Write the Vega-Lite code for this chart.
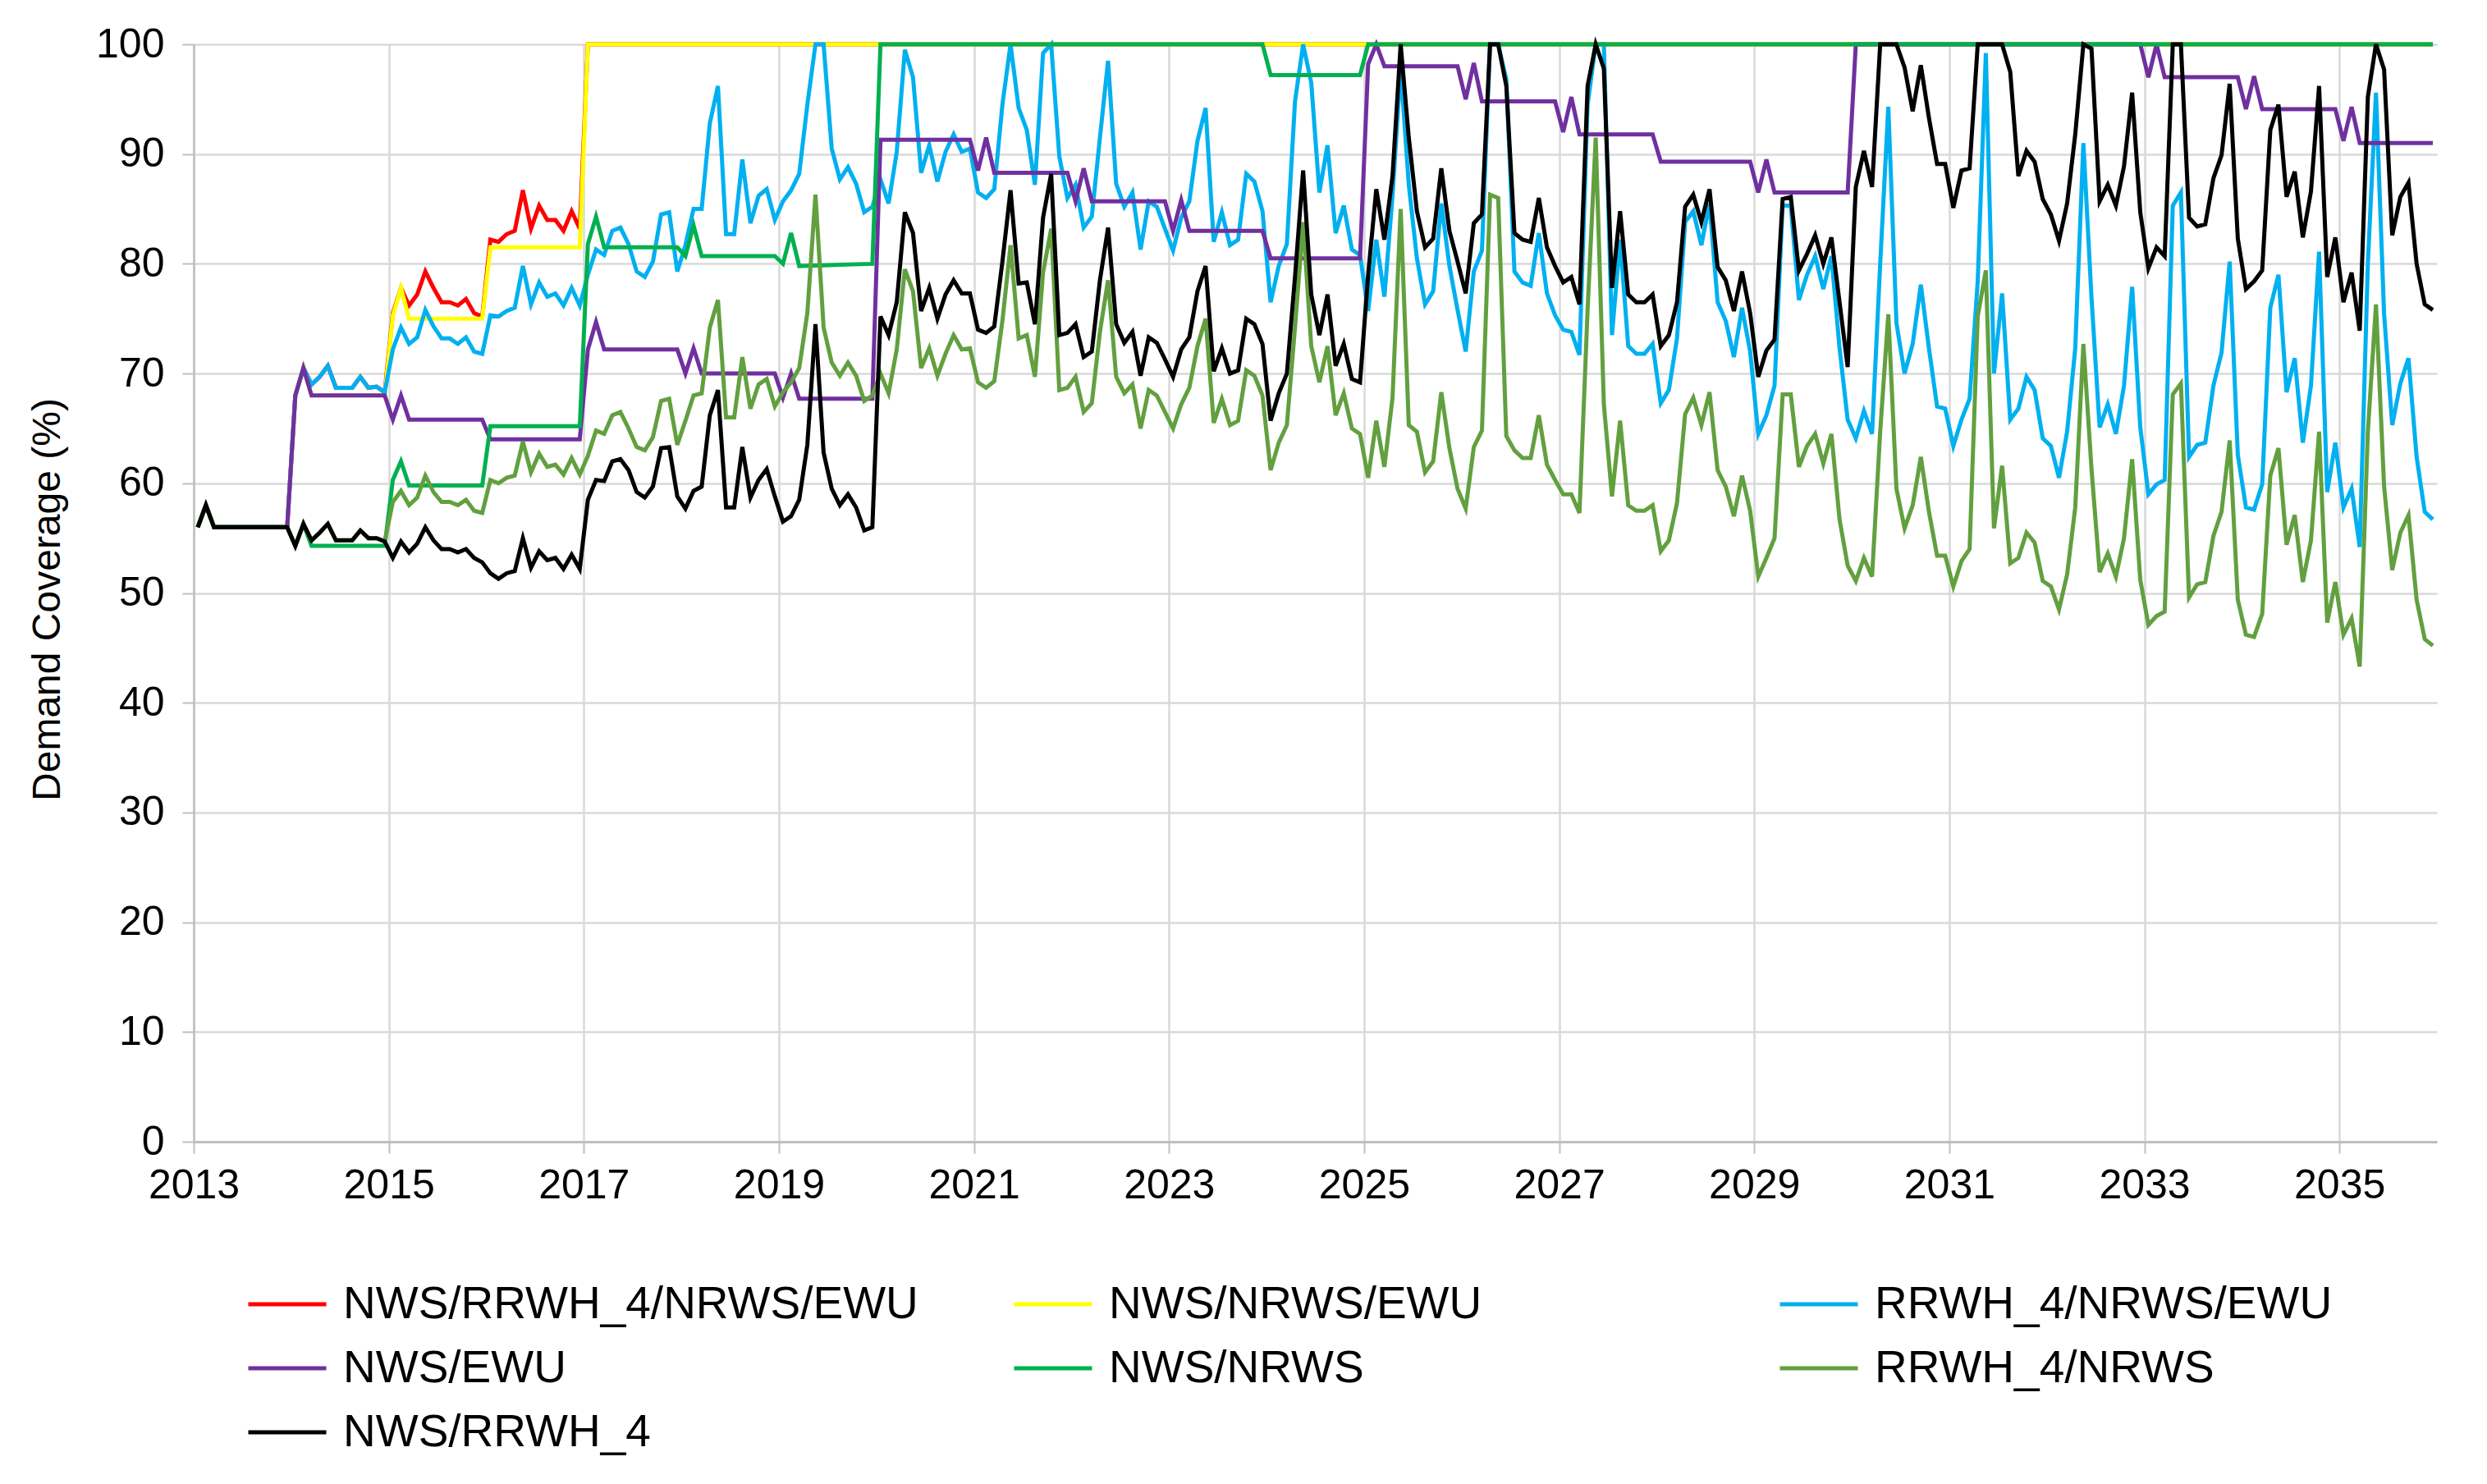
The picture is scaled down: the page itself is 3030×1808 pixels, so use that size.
{
"$schema": "https://vega.github.io/schema/vega-lite/v6.json",
"width": 2733, "height": 1337,
"autosize": {"type": "none"},
"padding": {"left": 236, "top": 54, "right": 61, "bottom": 417},
"background": "white",
"datasets": {
"red": [{"m":0,"v":56},{"m":1,"v":58},{"m":2,"v":56},{"m":11,"v":56},{"m":12,"v":68},{"m":13,"v":70.5},{"m":14,"v":69},{"m":15,"v":69.7},{"m":16,"v":70.7},{"m":17,"v":68.7},{"m":18,"v":68.7},{"m":19,"v":68.7},{"m":20,"v":69.7},{"m":21,"v":68.7},{"m":22,"v":68.8},{"m":23,"v":68.3},{"m":24,"v":75.5},{"m":25,"v":77.8},{"m":26,"v":76.2},{"m":27,"v":77.2},{"m":28,"v":79.3},{"m":29,"v":77.8},{"m":30,"v":76.5},{"m":31,"v":76.5},{"m":32,"v":76.2},{"m":33,"v":76.8},{"m":34,"v":75.5},{"m":35,"v":75.2},{"m":36,"v":82.2},{"m":37,"v":82},{"m":38,"v":82.7},{"m":39,"v":83},{"m":40,"v":86.7},{"m":41,"v":83.2},{"m":42,"v":85.3},{"m":43,"v":84},{"m":44,"v":84},{"m":45,"v":83},{"m":46,"v":84.8},{"m":47,"v":83.2},{"m":48,"v":100},{"m":275,"v":100}],
"yellow": [{"m":0,"v":56},{"m":1,"v":58},{"m":2,"v":56},{"m":11,"v":56},{"m":12,"v":68},{"m":13,"v":70.5},{"m":14,"v":68},{"m":23,"v":68},{"m":24,"v":75.3},{"m":25,"v":77.8},{"m":26,"v":75},{"m":35,"v":75},{"m":36,"v":81.5},{"m":47,"v":81.5},{"m":48,"v":100},{"m":275,"v":100}],
"blue": [{"m":0,"v":56},{"m":1,"v":58},{"m":2,"v":56},{"m":3,"v":56},{"m":4,"v":56},{"m":5,"v":56},{"m":6,"v":56},{"m":7,"v":56},{"m":8,"v":56},{"m":9,"v":56},{"m":10,"v":56},{"m":11,"v":56},
{"m":12,"v":68},{"m":13,"v":70.5},{"m":14,"v":69},{"m":15,"v":69.7},{"m":16,"v":70.7},{"m":17,"v":68.7},{"m":18,"v":68.7},{"m":19,"v":68.7},{"m":20,"v":69.7},{"m":21,"v":68.7},{"m":22,"v":68.8},{"m":23,"v":68.3},
{"m":24,"v":72.2},{"m":25,"v":74.2},{"m":26,"v":72.7},{"m":27,"v":73.3},{"m":28,"v":75.8},{"m":29,"v":74.3},{"m":30,"v":73.2},{"m":31,"v":73.2},{"m":32,"v":72.7},{"m":33,"v":73.3},{"m":34,"v":72},{"m":35,"v":71.8},
{"m":36,"v":75.3},{"m":37,"v":75.2},{"m":38,"v":75.7},{"m":39,"v":76},{"m":40,"v":79.8},{"m":41,"v":76.3},{"m":42,"v":78.3},{"m":43,"v":77},{"m":44,"v":77.3},{"m":45,"v":76.2},{"m":46,"v":77.8},{"m":47,"v":76.2},
{"m":48,"v":79},{"m":49,"v":81.3},{"m":50,"v":80.8},{"m":51,"v":83},{"m":52,"v":83.3},{"m":53,"v":81.8},{"m":54,"v":79.3},{"m":55,"v":78.8},{"m":56,"v":80.2},{"m":57,"v":84.5},{"m":58,"v":84.7},{"m":59,"v":79.3},
{"m":60,"v":81.7},{"m":61,"v":85},{"m":62,"v":85},{"m":63,"v":92.8},{"m":64,"v":96.2},{"m":65,"v":82.7},{"m":66,"v":82.7},{"m":67,"v":89.5},{"m":68,"v":83.7},{"m":69,"v":86.2},{"m":70,"v":86.8},{"m":71,"v":84},
{"m":72,"v":85.7},{"m":73,"v":86.7},{"m":74,"v":88.2},{"m":75,"v":94.5},{"m":76,"v":100},{"m":77,"v":100},{"m":78,"v":90.5},{"m":79,"v":87.7},{"m":80,"v":88.8},{"m":81,"v":87.3},{"m":82,"v":84.7},{"m":83,"v":85.2},
{"m":84,"v":87.7},{"m":85,"v":85.5},{"m":86,"v":90.2},{"m":87,"v":99.5},{"m":88,"v":97},{"m":89,"v":88.3},{"m":90,"v":90.8},{"m":91,"v":87.5},{"m":92,"v":90.2},{"m":93,"v":91.8},{"m":94,"v":90.2},{"m":95,"v":90.5},
{"m":96,"v":86.5},{"m":97,"v":86},{"m":98,"v":86.8},{"m":99,"v":94.5},{"m":100,"v":100},{"m":101,"v":94.2},{"m":102,"v":92.2},{"m":103,"v":87.2},{"m":104,"v":99.2},{"m":105,"v":100},{"m":106,"v":89.8},{"m":107,"v":86},
{"m":108,"v":87.2},{"m":109,"v":83.3},{"m":110,"v":84.3},{"m":111,"v":91.5},{"m":112,"v":98.5},{"m":113,"v":87.3},{"m":114,"v":85.2},{"m":115,"v":86.5},{"m":116,"v":81.3},{"m":117,"v":85.7},{"m":118,"v":85.2},{"m":119,"v":83.2},
{"m":120,"v":81.2},{"m":121,"v":84.2},{"m":122,"v":85.7},{"m":123,"v":91.2},{"m":124,"v":94.2},{"m":125,"v":82},{"m":126,"v":84.7},{"m":127,"v":81.7},{"m":128,"v":82.2},{"m":129,"v":88.2},{"m":130,"v":87.5},{"m":131,"v":84.8},
{"m":132,"v":76.5},{"m":133,"v":79.8},{"m":134,"v":81.8},{"m":135,"v":94.8},{"m":136,"v":100},{"m":137,"v":96.5},{"m":138,"v":86.5},{"m":139,"v":90.8},{"m":140,"v":82.8},{"m":141,"v":85.3},{"m":142,"v":81.3},{"m":143,"v":80.8},
{"m":144,"v":75.7},{"m":145,"v":82.2},{"m":146,"v":77},{"m":147,"v":86.2},{"m":148,"v":97.8},{"m":149,"v":87.2},{"m":150,"v":80.5},{"m":151,"v":76.3},{"m":152,"v":77.5},{"m":153,"v":85.5},{"m":154,"v":79.8},{"m":155,"v":75.8},
{"m":156,"v":72},{"m":157,"v":79.3},{"m":158,"v":81.2},{"m":159,"v":100},{"m":160,"v":100},{"m":161,"v":96.8},{"m":162,"v":79.3},{"m":163,"v":78.3},{"m":164,"v":78},{"m":165,"v":82.8},{"m":166,"v":77.3},{"m":167,"v":75.3},
{"m":168,"v":74},{"m":169,"v":73.8},{"m":170,"v":71.7},{"m":171,"v":94.5},{"m":172,"v":100},{"m":173,"v":100},{"m":174,"v":73.5},{"m":175,"v":82.2},{"m":176,"v":72.5},{"m":177,"v":71.8},{"m":178,"v":71.8},{"m":179,"v":72.7},
{"m":180,"v":67.3},{"m":181,"v":68.5},{"m":182,"v":73.2},{"m":183,"v":83.8},{"m":184,"v":84.8},{"m":185,"v":81.7},{"m":186,"v":85.5},{"m":187,"v":76.5},{"m":188,"v":74.8},{"m":189,"v":71.5},{"m":190,"v":76},{"m":191,"v":72},
{"m":192,"v":64.5},{"m":193,"v":66.2},{"m":194,"v":68.9},{"m":195,"v":85.3},{"m":196,"v":85.3},{"m":197,"v":76.7},{"m":198,"v":79},{"m":199,"v":80.7},{"m":200,"v":77.7},{"m":201,"v":80.7},{"m":202,"v":72.3},{"m":203,"v":65.8},
{"m":204,"v":64.1},{"m":205,"v":66.6},{"m":206,"v":64.5},{"m":207,"v":80},{"m":208,"v":94.3},{"m":209,"v":74.6},{"m":210,"v":70},{"m":211,"v":72.7},{"m":212,"v":78.1},{"m":213,"v":72.3},{"m":214,"v":67},{"m":215,"v":66.8},
{"m":216,"v":63.4},{"m":217,"v":65.8},{"m":218,"v":67.7},{"m":219,"v":78.4},{"m":220,"v":99.2},{"m":221,"v":70},{"m":222,"v":77.3},{"m":223,"v":65.8},{"m":224,"v":66.8},{"m":225,"v":69.7},{"m":226,"v":68.5},{"m":227,"v":64.1},
{"m":228,"v":63.4},{"m":229,"v":60.5},{"m":230,"v":64.7},{"m":231,"v":72.3},{"m":232,"v":91},{"m":233,"v":76.9},{"m":234,"v":65.1},{"m":235,"v":67.2},{"m":236,"v":64.5},{"m":237,"v":68.9},{"m":238,"v":77.9},{"m":239,"v":65.1},
{"m":240,"v":59},{"m":241,"v":59.9},{"m":242,"v":60.3},{"m":243,"v":85.3},{"m":244,"v":86.5},{"m":245,"v":62.4},{"m":246,"v":63.5},{"m":247,"v":63.7},{"m":248,"v":68.9},{"m":249,"v":71.9},{"m":250,"v":80.2},{"m":251,"v":62.6},
{"m":252,"v":57.8},{"m":253,"v":57.6},{"m":254,"v":59.9},{"m":255,"v":76},{"m":256,"v":79},{"m":257,"v":68.3},{"m":258,"v":71.4},{"m":259,"v":63.7},{"m":260,"v":68.9},{"m":261,"v":81.1},{"m":262,"v":59.2},{"m":263,"v":63.7},
{"m":264,"v":57.8},{"m":265,"v":59.5},{"m":266,"v":54.2},{"m":267,"v":80},{"m":268,"v":95.6},{"m":269,"v":75.4},{"m":270,"v":65.3},{"m":271,"v":69.1},{"m":272,"v":71.4},{"m":273,"v":62.4},{"m":274,"v":57.4},{"m":275,"v":56.7}],
"purple": [{"m":0,"v":56},{"m":1,"v":58},{"m":2,"v":56},{"m":11,"v":56},{"m":12,"v":68},{"m":13,"v":70.5},{"m":14,"v":68},{"m":23,"v":68},{"m":24,"v":65.8},{"m":25,"v":68},{"m":26,"v":65.8},{"m":35,"v":65.8},{"m":36,"v":64},{"m":47,"v":64},{"m":48,"v":72.2},{"m":49,"v":74.7},{"m":50,"v":72.2},{"m":59,"v":72.2},{"m":60,"v":70},{"m":61,"v":72.3},{"m":62,"v":70},{"m":71,"v":70},{"m":72,"v":67.8},{"m":73,"v":70},{"m":74,"v":67.7},{"m":83,"v":67.7},{"m":84,"v":91.3},{"m":95,"v":91.3},{"m":96,"v":88.5},{"m":97,"v":91.5},{"m":98,"v":88.3},{"m":107,"v":88.3},{"m":108,"v":85.7},{"m":109,"v":88.7},{"m":110,"v":85.7},{"m":119,"v":85.7},{"m":120,"v":83},{"m":121,"v":85.8},{"m":122,"v":83},{"m":131,"v":83},{"m":132,"v":80.5},{"m":143,"v":80.5},{"m":144,"v":98.2},{"m":145,"v":100},{"m":146,"v":98},{"m":155,"v":98},{"m":156,"v":95},{"m":157,"v":98.3},{"m":158,"v":94.8},{"m":167,"v":94.8},{"m":168,"v":92},{"m":169,"v":95.2},{"m":170,"v":91.8},{"m":179,"v":91.8},{"m":180,"v":89.3},{"m":191,"v":89.3},{"m":192,"v":86.5},{"m":193,"v":89.5},{"m":194,"v":86.5},{"m":203,"v":86.5},{"m":204,"v":100},{"m":239,"v":100},{"m":240,"v":97},{"m":241,"v":100},{"m":242,"v":97},{"m":251,"v":97},{"m":252,"v":94.1},{"m":253,"v":97.1},{"m":254,"v":94.1},{"m":263,"v":94.1},{"m":264,"v":91.2},{"m":265,"v":94.3},{"m":266,"v":91},{"m":275,"v":91}],
"green": [{"m":0,"v":56},{"m":1,"v":58},{"m":2,"v":56},{"m":11,"v":56},{"m":12,"v":54.3},{"m":13,"v":56.3},{"m":14,"v":54.3},{"m":23,"v":54.3},{"m":24,"v":60.3},{"m":25,"v":62},{"m":26,"v":59.8},{"m":35,"v":59.8},{"m":36,"v":65.2},{"m":47,"v":65.2},{"m":48,"v":81.8},{"m":49,"v":84.3},{"m":50,"v":81.5},{"m":59,"v":81.5},{"m":60,"v":80.7},{"m":61,"v":83.5},{"m":62,"v":80.7},{"m":71,"v":80.7},{"m":72,"v":80},{"m":73,"v":82.8},{"m":74,"v":79.8},{"m":83,"v":80},{"m":84,"v":100},{"m":131,"v":100},{"m":132,"v":97.2},{"m":143,"v":97.2},{"m":144,"v":100},{"m":275,"v":100}],
"lgreen": [{"m":0,"v":56},{"m":1,"v":58},{"m":2,"v":56},{"m":3,"v":56},{"m":4,"v":56},{"m":5,"v":56},{"m":6,"v":56},{"m":7,"v":56},{"m":8,"v":56},{"m":9,"v":56},{"m":10,"v":56},{"m":11,"v":56},
{"m":12,"v":54.3},{"m":13,"v":56.3},{"m":14,"v":54.8},{"m":15,"v":55.5},{"m":16,"v":56.3},{"m":17,"v":54.8},{"m":18,"v":54.8},{"m":19,"v":54.8},{"m":20,"v":55.7},{"m":21,"v":55},{"m":22,"v":55},{"m":23,"v":54.7},
{"m":24,"v":58.3},{"m":25,"v":59.3},{"m":26,"v":58},{"m":27,"v":58.7},{"m":28,"v":60.7},{"m":29,"v":59.2},{"m":30,"v":58.3},{"m":31,"v":58.3},{"m":32,"v":58},{"m":33,"v":58.5},{"m":34,"v":57.5},{"m":35,"v":57.3},
{"m":36,"v":60.3},{"m":37,"v":60},{"m":38,"v":60.5},{"m":39,"v":60.7},{"m":40,"v":63.8},{"m":41,"v":61},{"m":42,"v":62.7},{"m":43,"v":61.5},{"m":44,"v":61.7},{"m":45,"v":60.8},{"m":46,"v":62.3},{"m":47,"v":60.8},
{"m":48,"v":62.5},{"m":49,"v":64.8},{"m":50,"v":64.5},{"m":51,"v":66.2},{"m":52,"v":66.5},{"m":53,"v":65},{"m":54,"v":63.3},{"m":55,"v":63},{"m":56,"v":64.2},{"m":57,"v":67.5},{"m":58,"v":67.7},{"m":59,"v":63.5},
{"m":60,"v":65.7},{"m":61,"v":68},{"m":62,"v":68.2},{"m":63,"v":74.2},{"m":64,"v":76.7},{"m":65,"v":66},{"m":66,"v":66},{"m":67,"v":71.5},{"m":68,"v":66.8},{"m":69,"v":69},{"m":70,"v":69.5},{"m":71,"v":67},
{"m":72,"v":68.3},{"m":73,"v":69.2},{"m":74,"v":70.5},{"m":75,"v":75.5},{"m":76,"v":86.3},{"m":77,"v":74.2},{"m":78,"v":71},{"m":79,"v":69.8},{"m":80,"v":71},{"m":81,"v":69.8},{"m":82,"v":67.5},{"m":83,"v":68},
{"m":84,"v":70},{"m":85,"v":68.2},{"m":86,"v":72.2},{"m":87,"v":79.5},{"m":88,"v":77.5},{"m":89,"v":70.5},{"m":90,"v":72.3},{"m":91,"v":69.8},{"m":92,"v":71.8},{"m":93,"v":73.5},{"m":94,"v":72.2},{"m":95,"v":72.3},
{"m":96,"v":69.2},{"m":97,"v":68.7},{"m":98,"v":69.3},{"m":99,"v":74.8},{"m":100,"v":81.7},{"m":101,"v":73.2},{"m":102,"v":73.5},{"m":103,"v":69.7},{"m":104,"v":79.2},{"m":105,"v":83.2},{"m":106,"v":68.5},{"m":107,"v":68.7},
{"m":108,"v":69.7},{"m":109,"v":66.5},{"m":110,"v":67.3},{"m":111,"v":73.8},{"m":112,"v":78.5},{"m":113,"v":69.7},{"m":114,"v":68.2},{"m":115,"v":69},{"m":116,"v":65},{"m":117,"v":68.5},{"m":118,"v":68},{"m":119,"v":66.5},
{"m":120,"v":65},{"m":121,"v":67.2},{"m":122,"v":68.7},{"m":123,"v":72.5},{"m":124,"v":75},{"m":125,"v":65.5},{"m":126,"v":67.7},{"m":127,"v":65.3},{"m":128,"v":65.7},{"m":129,"v":70.3},{"m":130,"v":69.8},{"m":131,"v":68},
{"m":132,"v":61.2},{"m":133,"v":63.7},{"m":134,"v":65.3},{"m":135,"v":74.2},{"m":136,"v":83.8},{"m":137,"v":72.5},{"m":138,"v":69.2},{"m":139,"v":72.5},{"m":140,"v":66.2},{"m":141,"v":68.2},{"m":142,"v":65},{"m":143,"v":64.5},
{"m":144,"v":60.5},{"m":145,"v":65.7},{"m":146,"v":61.5},{"m":147,"v":67.8},{"m":148,"v":85},{"m":149,"v":65.3},{"m":150,"v":64.7},{"m":151,"v":61},{"m":152,"v":62},{"m":153,"v":68.3},{"m":154,"v":63.2},{"m":155,"v":59.5},
{"m":156,"v":57.7},{"m":157,"v":63.3},{"m":158,"v":64.8},{"m":159,"v":86.3},{"m":160,"v":86},{"m":161,"v":64.3},{"m":162,"v":63},{"m":163,"v":62.3},{"m":164,"v":62.3},{"m":165,"v":66.2},{"m":166,"v":61.7},{"m":167,"v":60.3},
{"m":168,"v":59},{"m":169,"v":59},{"m":170,"v":57.3},{"m":171,"v":75.8},{"m":172,"v":91.5},{"m":173,"v":67.2},{"m":174,"v":58.8},{"m":175,"v":65.7},{"m":176,"v":58},{"m":177,"v":57.5},{"m":178,"v":57.5},{"m":179,"v":58},
{"m":180,"v":53.8},{"m":181,"v":54.8},{"m":182,"v":58.2},{"m":183,"v":66.3},{"m":184,"v":67.8},{"m":185,"v":65.3},{"m":186,"v":68.3},{"m":187,"v":61.2},{"m":188,"v":59.7},{"m":189,"v":57},{"m":190,"v":60.7},{"m":191,"v":57.5},
{"m":192,"v":51.5},{"m":193,"v":53.2},{"m":194,"v":55},{"m":195,"v":68.1},{"m":196,"v":68.1},{"m":197,"v":61.5},{"m":198,"v":63.4},{"m":199,"v":64.5},{"m":200,"v":61.8},{"m":201,"v":64.5},{"m":202,"v":56.7},{"m":203,"v":52.5},
{"m":204,"v":51.1},{"m":205,"v":53.2},{"m":206,"v":51.5},{"m":207,"v":64.7},{"m":208,"v":75.4},{"m":209,"v":59.5},{"m":210,"v":55.9},{"m":211,"v":58},{"m":212,"v":62.4},{"m":213,"v":57.4},{"m":214,"v":53.4},{"m":215,"v":53.4},
{"m":216,"v":50.6},{"m":217,"v":52.9},{"m":218,"v":54},{"m":219,"v":75.2},{"m":220,"v":79.4},{"m":221,"v":55.9},{"m":222,"v":61.6},{"m":223,"v":52.7},{"m":224,"v":53.2},{"m":225,"v":55.5},{"m":226,"v":54.6},{"m":227,"v":51.1},
{"m":228,"v":50.6},{"m":229,"v":48.5},{"m":230,"v":51.7},{"m":231,"v":57.8},{"m":232,"v":72.7},{"m":233,"v":61.3},{"m":234,"v":51.9},{"m":235,"v":53.6},{"m":236,"v":51.5},{"m":237,"v":55},{"m":238,"v":62.2},{"m":239,"v":51.2},
{"m":240,"v":47.1},{"m":241,"v":47.9},{"m":242,"v":48.3},{"m":243,"v":68.1},{"m":244,"v":69.1},{"m":245,"v":49.6},{"m":246,"v":50.8},{"m":247,"v":51},{"m":248,"v":55.2},{"m":249,"v":57.4},{"m":250,"v":63.9},{"m":251,"v":49.4},
{"m":252,"v":46.2},{"m":253,"v":46},{"m":254,"v":48.1},{"m":255,"v":60.7},{"m":256,"v":63.2},{"m":257,"v":54.4},{"m":258,"v":57.1},{"m":259,"v":51},{"m":260,"v":54.8},{"m":261,"v":64.7},{"m":262,"v":47.3},{"m":263,"v":51},
{"m":264,"v":46.2},{"m":265,"v":47.7},{"m":266,"v":43.3},{"m":267,"v":64.7},{"m":268,"v":76.3},{"m":269,"v":59.7},{"m":270,"v":52.1},{"m":271,"v":55.5},{"m":272,"v":57.1},{"m":273,"v":49.4},{"m":274,"v":45.8},{"m":275,"v":45.2}],
"black": [{"m":0,"v":56},{"m":1,"v":58},{"m":2,"v":56},{"m":3,"v":56},{"m":4,"v":56},{"m":5,"v":56},{"m":6,"v":56},{"m":7,"v":56},{"m":8,"v":56},{"m":9,"v":56},{"m":10,"v":56},{"m":11,"v":56},
{"m":12,"v":54.3},{"m":13,"v":56.3},{"m":14,"v":54.8},{"m":15,"v":55.5},{"m":16,"v":56.3},{"m":17,"v":54.8},{"m":18,"v":54.8},{"m":19,"v":54.8},{"m":20,"v":55.7},{"m":21,"v":55},{"m":22,"v":55},{"m":23,"v":54.7},
{"m":24,"v":53.2},{"m":25,"v":54.7},{"m":26,"v":53.7},{"m":27,"v":54.5},{"m":28,"v":56},{"m":29,"v":54.8},{"m":30,"v":54},{"m":31,"v":54},{"m":32,"v":53.7},{"m":33,"v":54},{"m":34,"v":53.2},{"m":35,"v":52.8},
{"m":36,"v":51.8},{"m":37,"v":51.3},{"m":38,"v":51.8},{"m":39,"v":52},{"m":40,"v":55},{"m":41,"v":52.3},{"m":42,"v":53.8},{"m":43,"v":53},{"m":44,"v":53.2},{"m":45,"v":52.2},{"m":46,"v":53.5},{"m":47,"v":52.2},
{"m":48,"v":58.5},{"m":49,"v":60.3},{"m":50,"v":60.2},{"m":51,"v":62},{"m":52,"v":62.2},{"m":53,"v":61.2},{"m":54,"v":59.2},{"m":55,"v":58.7},{"m":56,"v":59.7},{"m":57,"v":63.2},{"m":58,"v":63.3},{"m":59,"v":58.8},
{"m":60,"v":57.7},{"m":61,"v":59.3},{"m":62,"v":59.7},{"m":63,"v":66.2},{"m":64,"v":68.5},{"m":65,"v":57.8},{"m":66,"v":57.8},{"m":67,"v":63.3},{"m":68,"v":58.7},{"m":69,"v":60.3},{"m":70,"v":61.3},{"m":71,"v":58.8},
{"m":72,"v":56.5},{"m":73,"v":57},{"m":74,"v":58.5},{"m":75,"v":63.5},{"m":76,"v":74.5},{"m":77,"v":62.8},{"m":78,"v":59.5},{"m":79,"v":58},{"m":80,"v":59},{"m":81,"v":57.8},{"m":82,"v":55.7},{"m":83,"v":56},
{"m":84,"v":75.2},{"m":85,"v":73.5},{"m":86,"v":76.5},{"m":87,"v":84.7},{"m":88,"v":82.8},{"m":89,"v":75.7},{"m":90,"v":77.8},{"m":91,"v":75},{"m":92,"v":77.2},{"m":93,"v":78.5},{"m":94,"v":77.3},{"m":95,"v":77.3},
{"m":96,"v":74},{"m":97,"v":73.7},{"m":98,"v":74.3},{"m":99,"v":80.2},{"m":100,"v":86.7},{"m":101,"v":78.2},{"m":102,"v":78.3},{"m":103,"v":74.5},{"m":104,"v":84.2},{"m":105,"v":88.2},{"m":106,"v":73.5},{"m":107,"v":73.7},
{"m":108,"v":74.5},{"m":109,"v":71.5},{"m":110,"v":72},{"m":111,"v":78.5},{"m":112,"v":83.3},{"m":113,"v":74.5},{"m":114,"v":72.8},{"m":115,"v":73.8},{"m":116,"v":69.8},{"m":117,"v":73.3},{"m":118,"v":72.8},{"m":119,"v":71.3},
{"m":120,"v":69.7},{"m":121,"v":72.2},{"m":122,"v":73.3},{"m":123,"v":77.5},{"m":124,"v":79.8},{"m":125,"v":70.2},{"m":126,"v":72.3},{"m":127,"v":70},{"m":128,"v":70.3},{"m":129,"v":75},{"m":130,"v":74.5},{"m":131,"v":72.7},
{"m":132,"v":65.7},{"m":133,"v":68.2},{"m":134,"v":70},{"m":135,"v":78.8},{"m":136,"v":88.5},{"m":137,"v":77.2},{"m":138,"v":73.5},{"m":139,"v":77.2},{"m":140,"v":70.7},{"m":141,"v":72.7},{"m":142,"v":69.5},{"m":143,"v":69.2},
{"m":144,"v":79},{"m":145,"v":86.8},{"m":146,"v":82.2},{"m":147,"v":88},{"m":148,"v":100},{"m":149,"v":91.5},{"m":150,"v":84.8},{"m":151,"v":81.5},{"m":152,"v":82.3},{"m":153,"v":88.7},{"m":154,"v":83},{"m":155,"v":80.2},
{"m":156,"v":77.3},{"m":157,"v":83.7},{"m":158,"v":84.5},{"m":159,"v":100},{"m":160,"v":100},{"m":161,"v":96.2},{"m":162,"v":82.8},{"m":163,"v":82.2},{"m":164,"v":82},{"m":165,"v":86},{"m":166,"v":81.5},{"m":167,"v":79.8},
{"m":168,"v":78.3},{"m":169,"v":78.8},{"m":170,"v":76.3},{"m":171,"v":96.2},{"m":172,"v":100},{"m":173,"v":97.8},{"m":174,"v":77.8},{"m":175,"v":84.8},{"m":176,"v":77.2},{"m":177,"v":76.5},{"m":178,"v":76.5},{"m":179,"v":77.2},
{"m":180,"v":72.5},{"m":181,"v":73.5},{"m":182,"v":76.5},{"m":183,"v":85.2},{"m":184,"v":86.3},{"m":185,"v":83.8},{"m":186,"v":86.8},{"m":187,"v":79.7},{"m":188,"v":78.5},{"m":189,"v":75.7},{"m":190,"v":79.3},{"m":191,"v":75.5},
{"m":192,"v":69.7},{"m":193,"v":72.1},{"m":194,"v":73.1},{"m":195,"v":85.9},{"m":196,"v":86.1},{"m":197,"v":79.4},{"m":198,"v":80.9},{"m":199,"v":82.6},{"m":200,"v":80},{"m":201,"v":82.4},{"m":202,"v":76.5},{"m":203,"v":70.6},
{"m":204,"v":87},{"m":205,"v":90.3},{"m":206,"v":87},{"m":207,"v":100},{"m":208,"v":100},{"m":209,"v":100},{"m":210,"v":97.9},{"m":211,"v":93.9},{"m":212,"v":98.1},{"m":213,"v":93.3},{"m":214,"v":89.1},{"m":215,"v":89.1},
{"m":216,"v":85.1},{"m":217,"v":88.5},{"m":218,"v":88.7},{"m":219,"v":100},{"m":220,"v":100},{"m":221,"v":100},{"m":222,"v":100},{"m":223,"v":97.5},{"m":224,"v":88},{"m":225,"v":90.3},{"m":226,"v":89.3},{"m":227,"v":85.9},
{"m":228,"v":84.5},{"m":229,"v":82.1},{"m":230,"v":85.5},{"m":231,"v":91.8},{"m":232,"v":100},{"m":233,"v":99.6},{"m":234,"v":85.7},{"m":235,"v":87.2},{"m":236,"v":85.3},{"m":237,"v":88.9},{"m":238,"v":95.6},{"m":239,"v":84.7},
{"m":240,"v":79.6},{"m":241,"v":81.5},{"m":242,"v":80.7},{"m":243,"v":100},{"m":244,"v":100},{"m":245,"v":84.2},{"m":246,"v":83.4},{"m":247,"v":83.6},{"m":248,"v":87.8},{"m":249,"v":89.9},{"m":250,"v":96.4},{"m":251,"v":82.3},
{"m":252,"v":77.7},{"m":253,"v":78.4},{"m":254,"v":79.4},{"m":255,"v":92.2},{"m":256,"v":94.5},{"m":257,"v":86.1},{"m":258,"v":88.4},{"m":259,"v":82.4},{"m":260,"v":86.6},{"m":261,"v":96.2},{"m":262,"v":78.8},{"m":263,"v":82.4},
{"m":264,"v":76.5},{"m":265,"v":79.2},{"m":266,"v":73.9},{"m":267,"v":95.2},{"m":268,"v":100},{"m":269,"v":97.7},{"m":270,"v":82.6},{"m":271,"v":86.1},{"m":272,"v":87.4},{"m":273,"v":80},{"m":274,"v":76.3},{"m":275,"v":75.8}]
},
"encoding": {
"x": {"field": "m", "type": "quantitative",
 "scale": {"domain": [-0.5, 275.5], "nice": false, "zero": false},
 "axis": {"title": null, "values": [-0.5, 23.5, 47.5, 71.5, 95.5, 119.5, 143.5, 167.5, 191.5, 215.5, 239.5, 263.5],
  "labelExpr": "'' + (2013 + round((datum.value + 0.5) / 12))", "labelFlush": false, "labelOverlap": false,
  "grid": true, "gridColor": "#D9D9D9", "gridWidth": 2.5,
  "domainColor": "#BFBFBF", "domainWidth": 3,
  "tickColor": "#BFBFBF", "tickWidth": 2, "tickSize": 14,
  "labelFontSize": 50, "labelColor": "#000000", "labelPadding": 14, "labelFont": "Liberation Sans"}},
"y": {"field": "v", "type": "quantitative",
 "scale": {"domain": [0, 100], "nice": false},
 "axis": {"title": "Demand Coverage (%)", "values": [0,10,20,30,40,50,60,70,80,90,100],
  "grid": true, "gridColor": "#D9D9D9", "gridWidth": 2.5,
  "domainColor": "#BFBFBF", "domainWidth": 2.5,
  "tickColor": "#BFBFBF", "tickWidth": 2, "tickSize": 14,
  "labelFontSize": 50, "labelColor": "#000000", "labelPadding": 22, "labelFont": "Liberation Sans",
  "titleFontSize": 48, "titleFont": "Liberation Sans", "titleFontWeight": "normal", "titleColor": "#000000",
  "titleX": -178, "titleY": 676, "titleAngle": -90, "titleAlign": "center", "titleBaseline": "middle"}}
},
"layer": [
{"data": {"name": "red"}, "mark": {"type": "line", "strokeWidth": 5},
 "encoding": {"color": {"datum": "NWS/RRWH_4/NRWS/EWU", "type": "nominal",
  "scale": {"domain": ["NWS/RRWH_4/NRWS/EWU", "NWS/NRWS/EWU", "RRWH_4/NRWS/EWU", "NWS/EWU", "NWS/NRWS", "RRWH_4/NRWS", "NWS/RRWH_4"],
   "range": ["#FF0000", "#FFFF00", "#00B0F0", "#7030A0", "#00B050", "#62A03F", "#000000"]},
  "legend": {"title": null, "orient": "none", "direction": "horizontal", "legendX": 64, "legendY": 1485, "columns": 3, "gridAlign": "all",
   "columnPadding": 106, "rowPadding": -9.5, "padding": 0,
   "symbolType": "stroke", "symbolSize": 9025, "symbolStrokeWidth": 5,
   "labelFontSize": 55, "labelFont": "Liberation Sans", "labelColor": "#000000", "labelOffset": 18, "labelLimit": 1000}}}},
{"data": {"name": "yellow"}, "mark": {"type": "line", "strokeWidth": 5}, "encoding": {"color": {"datum": "NWS/NRWS/EWU", "type": "nominal"}}},
{"data": {"name": "blue"}, "mark": {"type": "line", "strokeWidth": 5}, "encoding": {"color": {"datum": "RRWH_4/NRWS/EWU", "type": "nominal"}}},
{"data": {"name": "purple"}, "mark": {"type": "line", "strokeWidth": 5}, "encoding": {"color": {"datum": "NWS/EWU", "type": "nominal"}}},
{"data": {"name": "green"}, "mark": {"type": "line", "strokeWidth": 5}, "encoding": {"color": {"datum": "NWS/NRWS", "type": "nominal"}}},
{"data": {"name": "lgreen"}, "mark": {"type": "line", "strokeWidth": 5}, "encoding": {"color": {"datum": "RRWH_4/NRWS", "type": "nominal"}}},
{"data": {"name": "black"}, "mark": {"type": "line", "strokeWidth": 5}, "encoding": {"color": {"datum": "NWS/RRWH_4", "type": "nominal"}}}
],
"config": {"view": {"stroke": null}, "font": "Liberation Sans"}
}
